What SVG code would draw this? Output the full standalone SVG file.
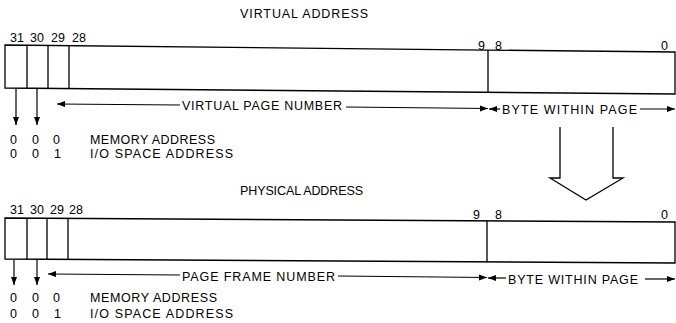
<svg xmlns="http://www.w3.org/2000/svg" width="676" height="323" viewBox="0 0 676 323">
<style>
.ln{fill:none;stroke:#000;stroke-width:1.3}
.ar{fill:none;stroke:#000;stroke-width:1.2;marker-end:url(#ah)}
text{font-family:"Liberation Sans",Arial,sans-serif;font-size:12.5px;fill:#000}
</style>
<defs>
<marker id="ah" markerUnits="userSpaceOnUse" markerWidth="9" markerHeight="7" refX="8" refY="3" orient="auto">
<path d="M0,0 L8,3 L0,6 z" fill="#000"/>
</marker>
</defs>
<g id="virtual-title"><text x="240" y="18" textLength="128" lengthAdjust="spacing">VIRTUAL ADDRESS</text></g>
<g id="virtual-register">
<path class="ln" d="M5,45 L675,52 L675,94 L5,88 Z"/>
<path class="ln" d="M27,45.2 V88.2 M48,45.4 V88.4 M69,45.6 V88.6 M488,50 V92.2"/>
<text x="10" y="42">31</text><text x="30" y="42">30</text><text x="51" y="42">29</text><text x="72" y="42">28</text>
<text x="478" y="50">9</text><text x="495" y="50">8</text><text x="661" y="50">0</text>
</g>
<g id="virtual-fields">
<text x="182" y="110" textLength="160" lengthAdjust="spacing">VIRTUAL PAGE NUMBER</text>
<text x="502" y="113.5" textLength="135" lengthAdjust="spacing">BYTE WITHIN PAGE</text>
</g>
<g id="virtual-codes">
<text x="10" y="144">0</text><text x="32" y="144">0</text><text x="53" y="144">0</text>
<text x="10" y="158">0</text><text x="32" y="158">0</text><text x="54" y="158">1</text>
<text x="90" y="144" textLength="125" lengthAdjust="spacing">MEMORY ADDRESS</text>
<text x="90" y="158" textLength="143" lengthAdjust="spacing">I/O SPACE ADDRESS</text>
</g>
<g id="translate-arrow">
<path class="ln" d="M560,127 V178 H550 L586,200 L623,178 H613 V127"/>
</g>
<g id="physical-title"><text x="240" y="195" textLength="123" lengthAdjust="spacing">PHYSICAL ADDRESS</text></g>
<g id="physical-register">
<path class="ln" d="M5,218 L675,222 L675,263 L5,259 Z"/>
<path class="ln" d="M27,218.1 V259.1 M47,218.3 V259.3 M68,218.4 V259.4 M487,221 V262"/>
<text x="10" y="214">31</text><text x="30" y="214">30</text><text x="50" y="214">29</text><text x="69" y="214">28</text>
<text x="473" y="219">9</text><text x="495" y="219">8</text><text x="661" y="219">0</text>
</g>
<g id="physical-fields">
<text x="182" y="281" textLength="153" lengthAdjust="spacing">PAGE FRAME NUMBER</text>
<text x="508" y="283.5" textLength="130" lengthAdjust="spacing">BYTE WITHIN PAGE</text>
</g>
<g id="physical-codes">
<text x="10" y="302">0</text><text x="32" y="302">0</text><text x="53" y="302">0</text>
<text x="10" y="318">0</text><text x="32" y="318">0</text><text x="54" y="318">1</text>
<text x="90" y="302" textLength="127" lengthAdjust="spacing">MEMORY ADDRESS</text>
<text x="90" y="318" textLength="143" lengthAdjust="spacing">I/O SPACE ADDRESS</text>
</g>
<g id="connectors">
<path class="ar" d="M16,89 V125"/>
<path class="ar" d="M37,89 V125"/>
<path class="ar" d="M180,105 L57,104"/>
<path class="ar" d="M346,107 L488,108.5"/>
<path class="ar" d="M500,109 L489,109"/>
<path class="ar" d="M640,109 L675,109"/>
<path class="ar" d="M14,260 V285"/>
<path class="ar" d="M37,260 V285"/>
<path class="ar" d="M180,275 L48,274"/>
<path class="ar" d="M338,276 L487,277.5"/>
<path class="ar" d="M506,278 L488,278"/>
<path class="ar" d="M645,279 L675,279"/>
</g>
</svg>
